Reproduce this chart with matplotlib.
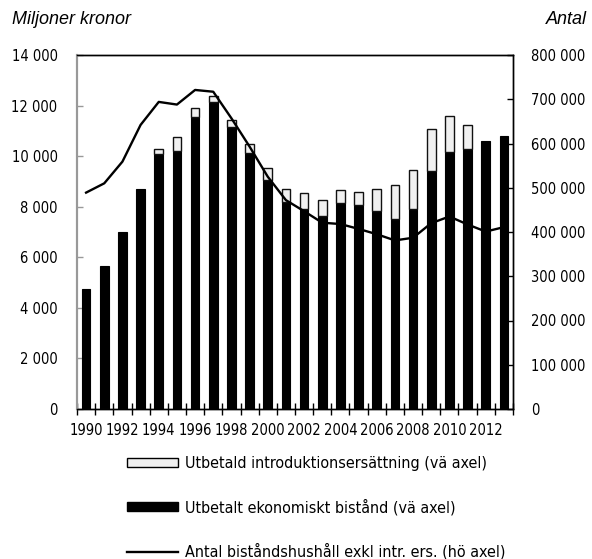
import matplotlib
matplotlib.use("Agg")
import matplotlib.pyplot as plt
from matplotlib import font_manager
from matplotlib.font_manager import FontProperties
from matplotlib.ticker import FixedLocator
from matplotlib.patches import Patch
from matplotlib.lines import Line2D
import os

# ---- pick a condensed font file if available
paths = [f.fname for f in font_manager.fontManager.ttflist]
prefs = ["LiberationSansNarrow-Regular", "DejaVuSansCondensed.ttf", "RobotoCondensed-Regular",
         "OpenSans_Condensed-Regular", "OpenSansCondensed"]
chosen = None
for p in prefs:
    for f in paths:
        if p.lower() in os.path.basename(f).lower():
            chosen = f
            break
    if chosen:
        break
if chosen is None:
    for f in paths:
        b = os.path.basename(f).lower()
        if ("condensed" in b or "narrow" in b) and "bold" not in b and "italic" not in b and "oblique" not in b:
            chosen = f
            break

def fp(size):
    if chosen:
        return FontProperties(fname=chosen, size=size)
    return FontProperties(family='Liberation Sans', size=size * 0.9)

years = list(range(1990, 2014))
ekonomiskt = [4750, 5650, 7000, 8700, 10090, 10220, 11540, 12150, 11170, 10110,
              9060, 8200, 7910, 7650, 8130, 8070, 7830, 7520, 7920, 9420,
              10160, 10280, 10610, 10800]
intro = [0, 0, -40, -40, 180, 550, 350, 230, 260, 370,
         460, 510, 620, 630, 540, 510, 870, 1330, 1530, 1640,
         1430, 950, -40, 0]
hushall = [489000, 510000, 559000, 642000, 694000, 688000, 721000, 717000, 657000, 593000,
           525000, 472000, 447000, 421000, 418000, 407000, 395000, 381000, 387000, 420000,
           435000, 417000, 401000, 411000]
xlabels = [str(y) if y % 2 == 0 else "" for y in years]

fig = plt.figure(figsize=(5.92, 5.59), dpi=100)
ax = fig.add_axes([77/592, 1-409/559, (513-77)/592, (409-55)/559])
ax2 = ax.twinx()

x = list(range(len(years)))
w = 0.47
ax.bar(x, ekonomiskt, width=w, color='black', edgecolor='black', linewidth=0.8, zorder=2)
bottoms = [e if i > 0 else 0 for e, i in zip(ekonomiskt, intro)]
ax.bar(x, intro, width=w, bottom=bottoms, color='#f0f0f0', edgecolor='#111111', linewidth=1.0, zorder=2)

ax2.plot(x, hushall, color='black', linewidth=1.7, zorder=3)

ax.set_xlim(-0.5, len(years) - 0.5)
ax.set_ylim(0, 14000)
ax2.set_ylim(0, 800000)
ax.set_yticks(range(0, 14001, 2000))
ax2.set_yticks(range(0, 800001, 100000))
fmt = lambda v: f"{int(v):,}".replace(",", " ")
ax.set_yticklabels([fmt(v) for v in range(0, 14001, 2000)])
ax2.set_yticklabels([fmt(v) for v in range(0, 800001, 100000)])

ax.set_xticks(x)
ax.set_xticklabels(xlabels)
ax.xaxis.set_minor_locator(FixedLocator([i - 0.5 for i in range(len(years) + 1)]))
ax.tick_params(axis='x', which='major', length=0, pad=10)
ax.tick_params(axis='x', which='minor', direction='inout', length=8, width=1, color='black')
ax.tick_params(axis='y', direction='in', length=4, width=1, color='#999999', pad=14)
ax2.tick_params(axis='y', direction='in', length=4, width=1, color='black', pad=13)

for lab in ax.get_xticklabels() + ax.get_yticklabels() + ax2.get_yticklabels():
    lab.set_fontproperties(fp(10.5))

for a in (ax, ax2):
    a.spines['left'].set_color('#999999')
    a.spines['left'].set_linewidth(1.5)
    a.spines['bottom'].set_color('black')
    a.spines['bottom'].set_linewidth(1.0)
    a.spines['top'].set_color('black')
    a.spines['top'].set_linewidth(1.0)
    a.spines['right'].set_color('black')
    a.spines['right'].set_linewidth(1.0)

fig.text(12/592, 1-20/559, "Miljoner kronor", fontsize=13, style='italic',
         family=['Liberation Sans', 'DejaVu Sans'], ha='left', va='center')
fig.text(587/592, 1-20/559, "Antal", fontsize=13, style='italic',
         family=['Liberation Sans', 'DejaVu Sans'], ha='right', va='center')

handles = [Patch(facecolor='#f0f0f0', edgecolor='black', linewidth=1.0),
           Patch(facecolor='black', edgecolor='black'),
           Line2D([0], [0], color='black', linewidth=1.7)]
labels = ["Utbetald introduktionsersättning (vä axel)",
          "Utbetalt ekonomiskt bistånd (vä axel)",
          "Antal biståndshushåll exkl intr. ers. (hö axel)"]
fig.legend(handles, labels, loc='upper left', bbox_to_anchor=(127/592, 1-456/559),
           frameon=False, prop=fp(11.5), handlelength=3.2, handleheight=0.5,
           handletextpad=0.45, labelspacing=1.75, borderpad=0, borderaxespad=0)

fig.savefig("out.png", dpi=100)
